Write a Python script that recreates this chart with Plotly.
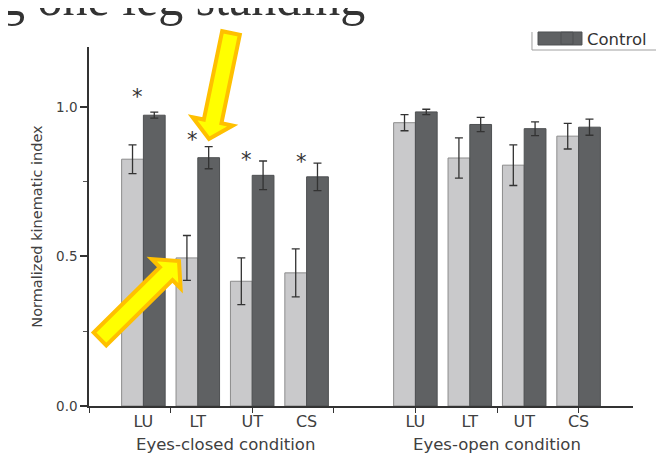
import math
import plotly.graph_objects as go

# ---------------- data ----------------
segments = ["LU", "LT", "UT", "CS"]
conditions = ["Eyes-closed condition", "Eyes-open condition"]

patient_closed = [0.825, 0.495, 0.417, 0.445]
patient_closed_err = [0.048, 0.075, 0.078, 0.080]
control_closed = [0.972, 0.830, 0.771, 0.766]
control_closed_err = [0.010, 0.037, 0.048, 0.046]

patient_open = [0.947, 0.829, 0.805, 0.902]
patient_open_err = [0.027, 0.067, 0.068, 0.043]
control_open = [0.983, 0.941, 0.927, 0.932]
control_open_err = [0.009, 0.024, 0.023, 0.027]

star_heights = [1.05, 0.905, 0.838, 0.832]   # significance markers (eyes-closed)

# ---------------- layout helpers ----------------
OFF = 8                       # page body margin of the browser
W, H = 664 - OFF, 461 - OFF   # figure size
ML, MR, MT, MB = 89 - OFF, 31, 47 - OFF, 55
PW, PH = W - ML - MR, H - MT - MB
X0, Y0 = ML + OFF, OFF + H - MB     # screen pixel of plot-area left / bottom

def px(x, y):
    """screen pixel -> paper coords"""
    return ((x - X0) / PW, (Y0 - y) / PH)

closed_pos = list(range(len(segments)))                 # 0..3
open_pos = [p + len(segments) + 1 for p in closed_pos]  # 5..8
xpos = closed_pos + open_pos
labels = segments + segments

TXT = "#404040"
FONT = "DejaVu Sans"
DARK = "#5f6163"

fig = go.Figure()
fig.add_trace(go.Bar(
    x=xpos, y=patient_closed + patient_open, name="Patient", showlegend=False,
    marker=dict(color="#c9c9cb", line=dict(color="#8c8c8c", width=1)),
    error_y=dict(type="data", array=patient_closed_err + patient_open_err,
                 color="#333333", thickness=1.3, width=4),
))
fig.add_trace(go.Bar(
    x=xpos, y=control_closed + control_open, name="Control",
    marker=dict(color=DARK, line=dict(color="#4e5052", width=1)),
    error_y=dict(type="data", array=control_closed_err + control_open_err,
                 color="#333333", thickness=1.3, width=4),
))

annotations = []
for p, h in zip(closed_pos, star_heights):
    annotations.append(dict(x=p - 0.1, y=h, xref="x", yref="y", text="*",
                            showarrow=False, yshift=-5,
                            font=dict(family=FONT, size=21, color="#333333")))
for c, grp in zip(conditions, [closed_pos, open_pos]):
    annotations.append(dict(x=sum(grp) / len(grp), y=px(0, 445)[1], xref="x", yref="paper",
                            text=c, showarrow=False, yanchor="middle",
                            font=dict(family=FONT, size=16.5, color=TXT)))
# slide title fragment
tx, ty = px(367, 28)
annotations.append(dict(x=tx, y=ty, xref="paper", yref="paper", text="g one leg standing",
                        showarrow=False, xanchor="right", yanchor="bottom",
                        font=dict(family="Liberation Serif", size=50, color="#333333")))

# ---------------- arrows (decoration) ----------------
def arrow_path(tail, tip, hw_shaft, hw_head, head_len):
    tx_, ty_ = tail
    px_, py_ = tip
    dx, dy = px_ - tx_, py_ - ty_
    L = math.hypot(dx, dy)
    ux, uy = dx / L, dy / L
    nx, ny = -uy, ux
    nxp, nyp = px_ - ux * head_len, py_ - uy * head_len
    pts = [
        (tx_ + nx * hw_shaft, ty_ + ny * hw_shaft),
        (nxp + nx * hw_shaft, nyp + ny * hw_shaft),
        (nxp + nx * hw_head, nyp + ny * hw_head),
        (px_, py_),
        (nxp - nx * hw_head, nyp - ny * hw_head),
        (nxp - nx * hw_shaft, nyp - ny * hw_shaft),
        (tx_ - nx * hw_shaft, ty_ - ny * hw_shaft),
    ]
    s = ""
    for i, (a, b) in enumerate(pts):
        xa, yb = px(a, b)
        s += ("M" if i == 0 else "L") + f"{xa:.4f},{yb:.4f} "
    return s + "Z"

def poly(points, close=False):
    s = ""
    for i, (a, b) in enumerate(points):
        xa, yb = px(a, b)
        s += ("M" if i == 0 else "L") + f"{xa:.4f},{yb:.4f} "
    return s + ("Z" if close else "")

shapes = []
for tail, tip in [((231, 33), (209, 139)), ((100, 339), (179, 261))]:
    shapes.append(dict(type="path", xref="paper", yref="paper", layer="above",
                       path=arrow_path(tail, tip, 9, 20.5, 18),
                       fillcolor="#ffff00", line=dict(color="#ffc000", width=4)))

# legend frame (partially hidden in the reference) and wide legend swatch
shapes.append(dict(type="path", xref="paper", yref="paper",
                   path=poly([(532, 32), (532, 50), (657, 50), (657, 5), (627, 5)]),
                   line=dict(color="#a0a0a0", width=1)))
shapes.append(dict(type="path", xref="paper", yref="paper",
                   path=poly([(538, 32), (582, 32), (582, 45), (538, 45)], close=True),
                   fillcolor=DARK, line=dict(color="#4e5052", width=1)))

lx, ly = px(547, 21)
fig.update_layout(
    width=W, height=H,
    margin=dict(l=ML, r=MR, t=MT, b=MB, autoexpand=False),
    paper_bgcolor="white", plot_bgcolor="white",
    barmode="group", bargap=0.2, bargroupgap=0,
    font=dict(family=FONT, color=TXT),
    showlegend=True,
    legend=dict(x=lx, y=ly, xanchor="left", yanchor="top", bgcolor="rgba(0,0,0,0)",
                borderwidth=0, font=dict(family=FONT, size=16.5, color="#333333")),
    annotations=annotations,
    shapes=shapes,
    xaxis=dict(range=[-1, 9], tickmode="array", tickvals=xpos, ticktext=labels,
               ticks="", showline=True, linecolor="#333333", linewidth=1.5,
               showgrid=False, zeroline=False,
               tickfont=dict(family=FONT, size=16, color=TXT),
               minor=dict(tickmode="array", tickvals=[-1, 0.5, 2, 3.5, 5, 6.5, 8],
                          ticks="outside", ticklen=5, tickwidth=1.3, tickcolor="#333333",
                          showgrid=False)),
    yaxis=dict(range=[0, 1.2], tickmode="array", tickvals=[0, 0.5, 1.0],
               ticktext=["0.0", "0.5", "1.0"], ticks="outside", ticklen=7,
               tickwidth=1.5, tickcolor="#333333",
               showline=True, linecolor="#333333", linewidth=1.5,
               showgrid=False, zeroline=False,
               tickfont=dict(family=FONT, size=13.5, color=TXT),
               title=dict(text="Normalized kinematic index", standoff=10,
                          font=dict(family=FONT, size=14.5, color=TXT)),
               minor=dict(tickmode="array", tickvals=[0.25, 0.75], ticks="outside",
                          ticklen=4, tickwidth=1, tickcolor="#555555", showgrid=False)),
)

fig.write_html("out.html")
